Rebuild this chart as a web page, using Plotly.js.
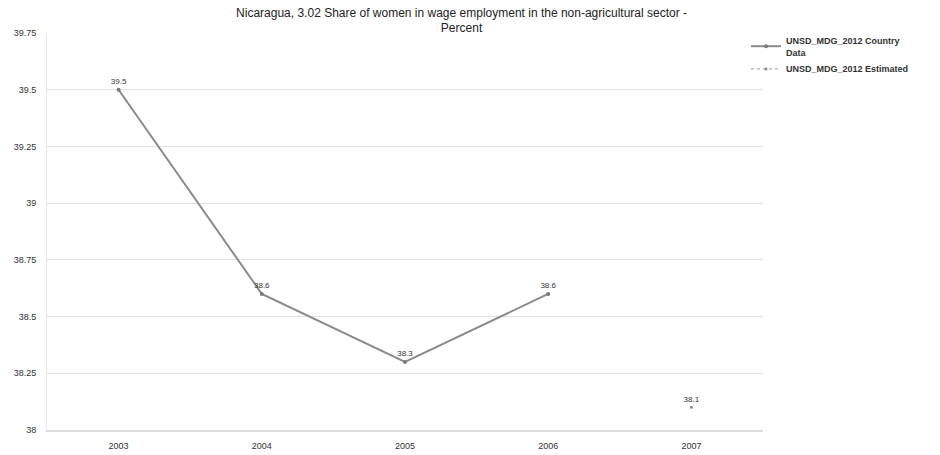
<!DOCTYPE html>
<html>
<head>
<meta charset="utf-8">
<script src="https://cdn.plot.ly/plotly-3.0.1.min.js"></script>
<style>
  html, body { margin: 0; padding: 0; background: #fff; }
  #chart { width: 940px; height: 455px; }
</style>
</head>
<body>
<div id="chart"></div>
<script>
// Share of women in wage employment, Nicaragua
const years = ['2003', '2004', '2005', '2006', '2007'];
const countryYears = ['2003', '2004', '2005', '2006'];
const countryValues = [39.5, 38.6, 38.3, 38.6];
const estimatedYears = ['2007'];
const estimatedValues = [38.1];
const yTicks = [38, 38.25, 38.5, 38.75, 39, 39.25, 39.5, 39.75];
const yTickText = ['38', '38.25', '38.5', '38.75', '39', '39.25', '39.5', '39.75'];

const font = 'Liberation Sans, Arial, sans-serif';

const traces = [
  {
    name: 'UNSD_MDG_2012 Country<br>Data',
    x: countryYears,
    y: countryValues,
    mode: 'lines+markers+text',
    text: countryValues.map(v => String(v)),
    textposition: 'top center',
    textfont: { family: font, size: 8, color: '#333' },
    line: { color: '#8a8a8a', width: 2 },
    marker: { color: '#7a7a7a', size: 4 },
    cliponaxis: false
  },
  {
    name: 'UNSD_MDG_2012 Estimated',
    x: estimatedYears,
    y: estimatedValues,
    mode: 'lines+markers+text',
    text: estimatedValues.map(v => String(v)),
    textposition: 'top center',
    textfont: { family: font, size: 8, color: '#333' },
    line: { color: '#9a9a9a', width: 1, dash: 'dot' },
    marker: { color: '#8a8a8a', size: 3 },
    cliponaxis: false
  }
];

const layout = {
  width: 940,
  height: 455,
  paper_bgcolor: '#fff',
  plot_bgcolor: '#fff',
  margin: { l: 47, r: 177, t: 33, b: 25, autoexpand: false },
  font: { family: font, size: 9, color: '#333' },
  title: {
    text: 'Nicaragua, 3.02 Share of women in wage employment in the non-agricultural sector -<br>Percent',
    font: { family: font, size: 12, color: '#222' },
    x: 0.491,
    xref: 'container',
    xanchor: 'center',
    y: 1.054,
    yref: 'paper',
    yanchor: 'bottom',
    pad: { b: 0 }
  },
  xaxis: {
    type: 'category',
    categoryorder: 'array',
    categoryarray: years,
    range: [-0.5, 4.5],
    showgrid: false,
    showline: true,
    linecolor: '#ddd',
    linewidth: 2,
    ticks: '',
    ticklabelstandoff: 6,
    tickfont: { family: font, size: 9, color: '#333' },
    fixedrange: true
  },
  yaxis: {
    range: [38, 39.75],
    tickvals: yTicks,
    ticktext: yTickText,
    showgrid: true,
    gridcolor: '#e2e2e2',
    gridwidth: 1,
    zeroline: false,
    showline: true,
    linecolor: '#e6e6e6',
    linewidth: 1,
    ticks: '',
    ticklabelstandoff: 8,
    tickfont: { family: font, size: 9, color: '#333' },
    fixedrange: true
  },
  showlegend: true,
  legend: {
    xref: 'container',
    yref: 'container',
    x: 746 / 940,
    xanchor: 'left',
    y: 1 - 28 / 455,
    yanchor: 'top',
    bgcolor: 'rgba(0,0,0,0)',
    font: { family: font, size: 9, color: '#333', weight: 'bold' },
    itemwidth: 30,
    tracegroupgap: 1
  }
};

Plotly.newPlot('chart', traces, layout, { displayModeBar: false, staticPlot: true });
</script>
</body>
</html>
